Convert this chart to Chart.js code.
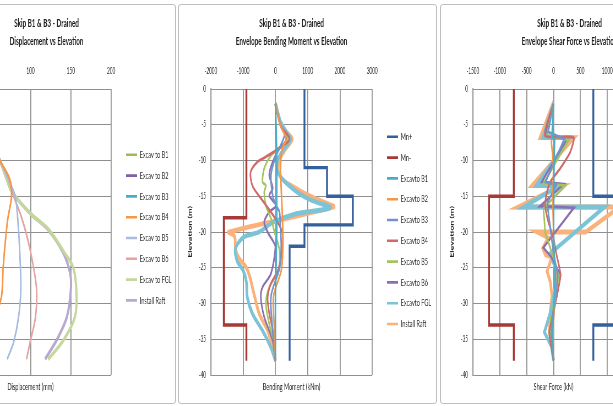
<!DOCTYPE html>
<html>
<head>
<meta charset="utf-8">
<script src="https://cdn.jsdelivr.net/npm/chart.js@4.4.0/dist/chart.umd.min.js"></script>
<style>
    html, body { margin: 0; padding: 0; background: #fff; width: 613px; height: 406px; overflow: hidden; }
    .panel { position: absolute; top: 4px; width: 259px; height: 400px; box-sizing: border-box; border: 1px solid #bfbfbf; border-radius: 3px; overflow: hidden; background: #fff; }
    .panel canvas { position: absolute; left: 0; top: 0; }
</style>
</head>
<body>
<div class="panel" style="left:-83px"><canvas id="disp-chart" width="467" height="398" style="width:256.85px;height:398px"></canvas></div>
<div class="panel" style="left:178px"><canvas id="moment-chart" width="467" height="398" style="width:256.85px;height:398px"></canvas></div>
<div class="panel" style="left:440px"><canvas id="shear-chart" width="467" height="398" style="width:256.85px;height:398px"></canvas></div>

<script>
// ---- data : [value, elevation] ----
const elevTicks = { min: -40, max: 0, step: 5 };

// displacement (mm)
const dispLabels = ["Excav to B1", "Excav to B2", "Excav to B3", "Excav to B4", "Excav to B5", "Excav to B6", "Excav to FGL", "Install Raft"];
const dispB1 = [[12, -2], [18, -10], [20, -16], [16, -24], [10, -32], [6, -38]];
const dispB2 = [[18, -2], [30, -10], [34, -16], [30, -24], [20, -32], [12, -38]];
const dispB3 = [[22, -2], [40, -10], [48, -16], [44, -24], [30, -32], [20, -38]];
const dispB4 = [[30, -2], [48, -6], [62, -10], [72, -12], [76, -13.5], [76, -15.5], [72, -18], [69, -21], [66, -25], [64, -29], [56, -32], [46, -35], [38, -38]];
const dispB5 = [[30, -2], [46, -6], [62, -10], [72, -12.5], [81, -15], [84, -18], [86.5, -22.5], [88, -28], [85, -32], [79, -35.4], [71, -37.8]];
const dispB6 = [[30, -2], [46, -6], [62, -10], [72, -12.5], [79, -15], [89, -18], [99.5, -22.5], [107.5, -28], [106, -32], [99.5, -35.4], [95, -37.8]];
const dispFGL = [[30, -2], [46, -6], [62, -10], [70, -12.5], [77, -14.4], [100, -17.4], [123, -19.7], [142, -22.9], [153, -25], [157, -28.6], [155, -31.9], [141, -35.1], [122, -37.8]];
const dispRaft = [[30, -2], [46, -6], [62, -10], [70, -12.5], [77, -14.4], [99.5, -17.4], [122, -19.7], [140.5, -22.9], [149, -25.7], [150, -28], [145, -31.9], [132.5, -35.1], [118, -37.8]];

// bending moment (kNm)
const stageLabels = ["Excavto B1", "Excavto B2", "Excavto B3", "Excavto B4", "Excavto B5", "Excavto B6", "Excavto FGL", "Install Raft"];
const mnPlus = [[900, 0], [900, -11], [1600, -11], [1600, -15], [2400, -15], [2400, -19], [900, -19], [900, -22], [440, -22], [440, -38]];
const mnMinus = [[-900, 0], [-900, -18], [-1600, -18], [-1600, -33], [-900, -33], [-900, -38]];
const bmB1 = [[0, -2], [20, -5], [30, -7], [40, -10], [40, -15], [40, -20], [30, -22], [20, -25], [0, -29], [0, -34], [0, -38]];
const bmB2 = [[0, -2], [150, -5], [330, -7], [200, -8.5], [160, -11], [180, -14], [210, -17], [230, -20], [230, -22.5], [180, -25.4], [-60, -29], [-30, -33.8], [0, -38]];
const bmB3 = [[0, -2], [150, -5], [284, -6.4], [21, -9.3], [-137, -12], [-84, -14.9], [21, -16.3], [126, -17.2], [150, -19], [180, -22], [130, -25], [-137, -29], [-84, -33.8], [0, -38]];
const bmB4 = [[0, -2], [150, -5], [440, -7], [100, -8.3], [-300, -9.5], [-560, -10.2], [-770, -11.6], [-716, -13.5], [-450, -15.3], [-140, -17.2], [126, -19.1], [230, -20.5], [200, -23], [74, -25.4], [-137, -27.2], [-242, -29.1], [-190, -31.4], [-84, -33.8], [0, -38]];
const bmB5 = [[0, -2], [150, -5], [390, -7], [100, -8.3], [-137, -9.3], [-347, -11.1], [-400, -13], [-295, -13.5], [-347, -14.4], [-295, -16.3], [-137, -18.1], [-30, -20], [126, -22.6], [95, -25.4], [-190, -27.7], [-295, -30], [-190, -32.9], [-30, -35.7], [0, -38]];
const bmB6 = [[0, -2], [150, -5], [337, -7], [100, -8.5], [-84, -10.2], [-190, -12], [-84, -13.9], [-190, -14.9], [21, -16.3], [-190, -17.2], [-347, -18.6], [-242, -20], [-84, -21.2], [0, -22.1], [-137, -25.8], [-400, -27.7], [-453, -29.1], [-347, -31.9], [-84, -35.2], [0, -38]];
const bmFGL = [[0, -2], [150, -4.5], [330, -6], [470, -7], [250, -8.5], [60, -10], [60, -11.5], [300, -13], [700, -14.5], [1127, -15.6], [1706, -16.6], [600, -17.5], [-100, -18.7], [-505, -20], [-979, -20.7], [-1242, -22.3], [-1190, -24], [-1000, -25.4], [-900, -27], [-874, -29.1], [-716, -31.4], [-400, -33.8], [-137, -36.2], [0, -38]];
const bmRaft = [[0, -2], [150, -4.5], [350, -6], [520, -7], [300, -8.5], [120, -10], [95, -11.6], [250, -12.8], [495, -13.5], [900, -14.6], [1232, -15.3], [1600, -16], [1811, -16.5], [-1453, -20], [-1300, -20.4], [-1250, -21], [-1240, -22.3], [-1150, -23.5], [-900, -25], [-780, -26.5], [-700, -28], [-640, -29.1], [-505, -31.4], [-242, -33.8], [-84, -36.2], [0, -38]];

// shear force (kN)
const vnPlus = [[740, 0], [740, -15], [1200, -15], [1200, -33], [740, -33], [740, -38]];
const vnMinus = [[-740, 0], [-740, -15], [-1200, -15], [-1200, -33], [-740, -33], [-740, -38]];
const sfB1 = [[0, -2], [-30, -6.8], [20, -7], [10, -10], [5, -13.5], [0, -17], [0, -20], [10, -23], [30, -26], [10, -30], [-20, -34], [0, -38]];
const sfB2 = [[0, -2], [-20, -6], [-40, -7.5], [-20, -9], [0, -11], [-10, -14], [-10, -17], [0, -20], [10, -23], [40, -26], [20, -30], [-10, -34], [0, -38]];
const sfB3 = [[0, -2], [-100, -6], [200, -7], [-150, -13], [50, -13.4], [-120, -16], [-50, -20], [0, -23], [80, -26], [40, -29], [-30, -32], [-40, -34.5], [0, -38]];
const sfB4 = [[0, -2], [-160, -6.5], [375, -6.8], [312, -8.8], [125, -11.1], [-62, -13], [-137, -14.9], [-156, -16.3], [-100, -18.5], [0, -21], [50, -23], [130, -26], [60, -29], [-20, -32], [-80, -34], [0, -38]];
const sfB5 = [[0, -2], [-125, -6.5], [281, -7.1], [-62, -11.6], [-187, -13.2], [219, -13.5], [-187, -16.7], [-156, -20], [-50, -22.5], [60, -25], [100, -26.5], [40, -29], [-50, -32], [-60, -34], [0, -38]];
const sfB6 = [[0, -2], [-150, -6.5], [250, -7], [-220, -13], [190, -13.3], [-250, -16.4], [380, -16.6], [-190, -22.2], [-40, -23.5], [130, -26], [60, -29], [-40, -32], [-60, -34.5], [0, -38]];
const sfFGL = [[0, -2], [-200, -6.8], [300, -6.8], [-320, -13.5], [100, -13.5], [-550, -16.5], [950, -16.5], [-60, -23], [30, -25], [60, -26.5], [0, -29], [-50, -31], [-170, -34], [-40, -36], [0, -38]];
const sfRaft = [[0, -1.8], [-250, -6.8], [380, -6.8], [-400, -13.5], [150, -13.5], [-660, -16.5], [1230, -16.5], [600, -20], [-310, -20], [-100, -20.8], [-200, -22.3], [-150, -23.2], [-30, -23.5], [-120, -25.5], [-60, -27], [-30, -29], [-60, -31], [-80, -34], [-30, -36], [0, -38]];

// ---- layout (unsquished canvas units) ----
const CANVAS_H = 398;
const PLOT_LEFT = 58, PLOT_TOP = 84, PLOT_BOTTOM = 370;
const TITLE_BOX_H = 45;
const LEGEND_W = 116, LEGEND_X = 378, LEGEND_PAD = 10.8;
const GRID = "#8f8f8f";
const THIN = 2.8, THICK = 4.8, LIMIT = 3.4;

Chart.defaults.font.family = "Lato, 'Liberation Sans', sans-serif";
Chart.defaults.color = "#2a2a2a";

function series(label, data, color, width, tension) {
    return {
        label: label,
        data: data.map(p => ({ x: p[0], y: p[1] })),
        borderColor: color,
        backgroundColor: color,
        borderWidth: width,
        showLine: true,
        pointRadius: 0,
        tension: tension,
        fill: false
    };
}

// legend samples drawn as even, thin lines
function legendLabels(chart) {
    const items = Chart.defaults.plugins.legend.labels.generateLabels(chart);
    items.forEach(it => { it.lineWidth = Math.min(it.lineWidth, 2.6); });
    return items;
}

// keep the legend a fixed width and put it where the reference has it
const placeLegend = {
    id: "placeLegend",
    beforeLayout(chart) {
        const lg = chart.legend;
        if (lg && !lg.fixedFit) {
            const fit = lg.fit;
            lg.fit = function () { fit.call(this); this.width = LEGEND_W; };
            lg.fixedFit = true;
        }
    },
    afterLayout(chart, args, opts) {
        const lg = chart.legend;
        const h = lg.bottom - lg.top;
        lg.left = LEGEND_X - LEGEND_PAD;
        lg.right = lg.left + LEGEND_W + 40;
        lg.top = opts.top;
        lg.bottom = opts.top + h;
    }
};

function makeChart(id, cfg) {
    return new Chart(document.getElementById(id), {
        type: "scatter",
        data: { datasets: cfg.datasets },
        plugins: [placeLegend],
        options: {
            responsive: false,
            animation: false,
            events: [],
            layout: { padding: 0 },
            plugins: {
                title: {
                    display: true,
                    text: cfg.title,
                    fullSize: cfg.titleFull,
                    color: "#1e1e1e",
                    font: { size: 11.5, weight: "bold", lineHeight: "18px" },
                    padding: { top: 9, bottom: 0 }
                },
                legend: {
                    position: "right",
                    align: "start",
                    labels: {
                        usePointStyle: true,
                        pointStyle: "line",
                        pointStyleWidth: 20,
                        boxWidth: 20,
                        padding: LEGEND_PAD,
                        color: "#2a2a2a",
                        font: { size: 10 },
                        generateLabels: legendLabels
                    }
                },
                tooltip: { enabled: false },
                placeLegend: { top: cfg.legendTop }
            },
            scales: {
                x: {
                    type: "linear",
                    position: "top",
                    min: cfg.xMin,
                    max: cfg.xMax,
                    ticks: { stepSize: cfg.xStep, padding: 13, font: { size: 8.5 }, callback: v => String(v) },
                    grid: { color: GRID, lineWidth: 1.8, drawTicks: false },
                    border: { color: GRID, width: 1 },
                    afterFit: s => { s.height = PLOT_TOP - TITLE_BOX_H; }
                },
                xTitle: {
                    type: "linear",
                    axis: "x",
                    position: "bottom",
                    min: cfg.xMin,
                    max: cfg.xMax,
                    ticks: { display: false },
                    grid: { display: false, drawTicks: false },
                    border: { display: false },
                    title: { display: true, text: cfg.xTitle, color: "#1e1e1e", font: { size: 10 }, padding: { top: 0, bottom: 10 } },
                    afterFit: s => { s.height = CANVAS_H - PLOT_BOTTOM; }
                },
                y: {
                    type: "linear",
                    min: elevTicks.min,
                    max: elevTicks.max,
                    ticks: { stepSize: elevTicks.step, padding: 9, font: { size: 8.5 }, callback: v => String(v) },
                    grid: { color: GRID, lineWidth: 1, drawTicks: false },
                    border: { color: GRID, width: 1.8 },
                    title: {
                        display: true,
                        text: "Elevation (m)",
                        color: "#1e1e1e",
                        font: { family: "'Liberation Sans Narrow', Lato, sans-serif", size: 9, weight: "bold" },
                        padding: { top: 15, bottom: 0 }
                    },
                    afterFit: s => { s.width = PLOT_LEFT; }
                }
            }
        }
    });
}

// Displacement vs Elevation
makeChart("disp-chart", {
    title: ["Skip B1 & B3 - Drained", "Displacement vs Elevation"],
    titleFull: true,
    xTitle: "Displacement (mm)",
    xMin: 0, xMax: 200, xStep: 50,
    legendTop: 134,
    datasets: [
        series(dispLabels[0], dispB1, "#9BBB59", THIN, 0.3),
        series(dispLabels[1], dispB2, "#7F5FA8", THIN, 0.3),
        series(dispLabels[2], dispB3, "#4BACC6", THIN, 0.3),
        series(dispLabels[3], dispB4, "#F79646", THIN, 0.3),
        series(dispLabels[4], dispB5, "#A7BCE0", THIN, 0.3),
        series(dispLabels[5], dispB6, "#E3A5A4", THIN, 0.3),
        series(dispLabels[6], dispFGL, "#C4D89B", 4, 0.3),
        series(dispLabels[7], dispRaft, "#B8A9D2", 4, 0.3)
    ]
});

// Envelope Bending Moment vs Elevation
makeChart("moment-chart", {
    title: ["Skip B1 & B3 - Drained", "Envelope Bending Moment vs Elevation"],
    titleFull: false,
    xTitle: "Bending Moment (kNm)",
    xMin: -2000, xMax: 3000, xStep: 1000,
    legendTop: 116,
    datasets: [
        series("Mn+", mnPlus, "#35609E", LIMIT, 0),
        series("Mn-", mnMinus, "#A73A37", LIMIT, 0),
        series(stageLabels[0], bmB1, "#4BACC6", THIN, 0.3),
        series(stageLabels[1], bmB2, "#F79646", THIN, 0.3),
        series(stageLabels[2], bmB3, "#7294CB", THIN, 0.3),
        series(stageLabels[3], bmB4, "#D0696A", THIN, 0.3),
        series(stageLabels[4], bmB5, "#A3C561", THIN, 0.3),
        series(stageLabels[5], bmB6, "#8B6FB0", THIN, 0.3),
        series(stageLabels[6], bmFGL, "#7CC3D8", THICK, 0.3),
        series(stageLabels[7], bmRaft, "#FAB27A", THICK, 0.3)
    ]
});

// Envelope Shear Force vs Elevation
makeChart("shear-chart", {
    title: ["Skip B1 & B3 - Drained", "Envelope Shear Force vs Elevation"],
    titleFull: true,
    xTitle: "Shear Force (kN)",
    xMin: -1500, xMax: 1500, xStep: 500,
    legendTop: 116,
    datasets: [
        series("Vn+", vnPlus, "#35609E", LIMIT, 0),
        series("Vn-", vnMinus, "#A73A37", LIMIT, 0),
        series(stageLabels[0], sfB1, "#4BACC6", THIN, 0),
        series(stageLabels[1], sfB2, "#F79646", THIN, 0),
        series(stageLabels[2], sfB3, "#7294CB", THIN, 0),
        series(stageLabels[3], sfB4, "#D0696A", THIN, 0.2),
        series(stageLabels[4], sfB5, "#A3C561", THIN, 0),
        series(stageLabels[5], sfB6, "#8B6FB0", THIN, 0),
        series(stageLabels[6], sfFGL, "#7CC3D8", THICK, 0),
        series(stageLabels[7], sfRaft, "#FAB27A", THICK, 0)
    ]
});
</script>
</body>
</html>
